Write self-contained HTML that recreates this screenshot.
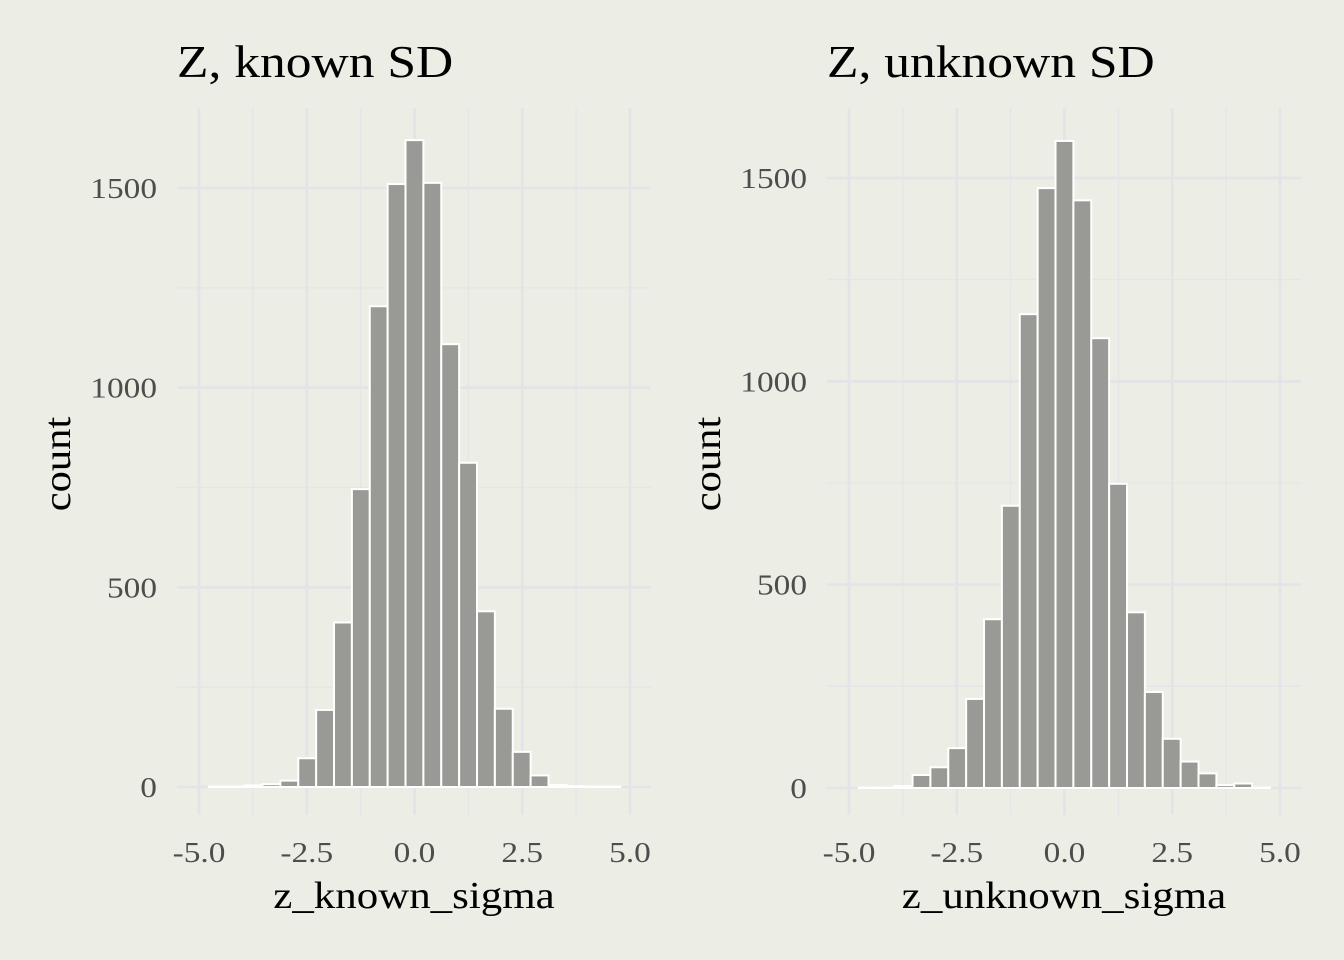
<!DOCTYPE html>
<html><head><meta charset="utf-8">
<style>
html,body{margin:0;padding:0;background:#ecede5;}
svg{display:block;font-family:"Liberation Serif",serif;}
</style></head>
<body>
<svg id="chart" width="1344" height="960" viewBox="0 0 1344 960" xmlns="http://www.w3.org/2000/svg">
<rect x="0" y="0" width="1344" height="960" fill="#ecede5"/>
</svg>
<script>
const binStart = -4.77;
const binWidth = 0.4147;
const countsKnown = [1,1,4,7,16,72,193,412,746,1204,1510,1620,1513,1109,812,440,196,88,29,5,2,1,1];
const countsUnknown = [1,1,5,32,51,98,219,415,694,1165,1475,1591,1445,1106,748,432,236,121,65,36,7,11,1];
const xTicks = [-5.0,-2.5,0.0,2.5,5.0];
const xTickLabels = ["-5.0","-2.5","0.0","2.5","5.0"];
const yTicks = [0,500,1000,1500];
const yTickLabels = ["0","500","1000","1500"];
const titles = ["Z, known SD","Z, unknown SD"];
const xTitles = ["z_known_sigma","z_unknown_sigma"];

const NS="http://www.w3.org/2000/svg";
const svg=document.getElementById('chart');
function mk(tag,attrs,parent){const e=document.createElementNS(NS,tag);for(const k in attrs)e.setAttribute(k,attrs[k]);(parent||svg).appendChild(e);return e;}
function fit(t,scale){try{const w=t.getComputedTextLength();t.setAttribute('textLength',w*scale);t.setAttribute('lengthAdjust','spacingAndGlyphs');}catch(e){}}

const panels=[
 {x0:177,x1:651,y0:108,y1:815,xm5:199,xp5:630,yZero:787,yPer:0.3993,counts:countsKnown,tx:177,ylabX:58,name:'known'},
 {x0:827,x1:1301,y0:108,y1:815,xm5:849,xp5:1280,yZero:788,yPer:0.4067,counts:countsUnknown,tx:827,ylabX:708,name:'unknown'}
];
panels.forEach((p,pi)=>{
 const g=mk('g',{});
 
 
 const xs=v=>p.xm5+(v+5)*(p.xp5-p.xm5)/10;
 const ys=v=>p.yZero-v*p.yPer;
 for(let i=0;i<xTicks.length-1;i++){const v=(xTicks[i]+xTicks[i+1])/2;
  const l=mk('line',{x1:xs(v),x2:xs(v),y1:p.y0,y2:p.y1,stroke:'#e5e5e8','stroke-width':1.3},g);
  
  }
 for(let i=0;i<yTicks.length;i++){const v=yTicks[i]+250;
  if(ys(v)<p.y0)continue;
  const l=mk('line',{x1:p.x0,x2:p.x1,y1:ys(v),y2:ys(v),stroke:'#e5e5e8','stroke-width':1.3},g);
  
  }
 xTicks.forEach((v,i)=>{
  const l=mk('line',{x1:xs(v),x2:xs(v),y1:p.y0,y2:p.y1,stroke:'#e3e3e8','stroke-width':2.6},g);
  
  
  const t=mk('text',{x:xs(v),y:862,'text-anchor':'middle','font-size':29,fill:'#4d4d4d'},g);
  t.textContent=xTickLabels[i];
  
  
  fit(t,1.15);
 });
 yTicks.forEach((v,i)=>{
  const l=mk('line',{x1:p.x0,x2:p.x1,y1:ys(v),y2:ys(v),stroke:'#e3e3e8','stroke-width':2.6},g);
  
  
  const t=mk('text',{x:p.x0-20,y:ys(v)+10,'text-anchor':'end','font-size':29,fill:'#4d4d4d'},g);
  t.textContent=yTickLabels[i];
  
  
  fit(t,1.15);
 });
 p.counts.forEach((c,i)=>{
  const a=binStart+i*binWidth;
  const r=mk('rect',{x:xs(a),y:ys(c),width:xs(a+binWidth)-xs(a),height:ys(0)-ys(c),fill:'#999996',stroke:'#ffffff','stroke-width':2},g);
  
  
 });
 const tt=mk('text',{x:p.tx,y:77,'font-size':46,fill:'#000'},g);
 tt.textContent=titles[pi];
 
 
 fit(tt,1.12);
 const xt=mk('text',{x:(p.x0+p.x1)/2,y:908,'text-anchor':'middle','font-size':38,fill:'#000'},g);
 xt.textContent=xTitles[pi];
 
 
 fit(xt,1.13);
 const yt=mk('text',{x:0,y:0,'text-anchor':'middle','font-size':38,fill:'#000',transform:'translate('+(p.ylabX+12)+',464) rotate(-90)'},g);
 yt.textContent='count';
 
 
 fit(yt,1.12);
});
</script>
</body></html>
